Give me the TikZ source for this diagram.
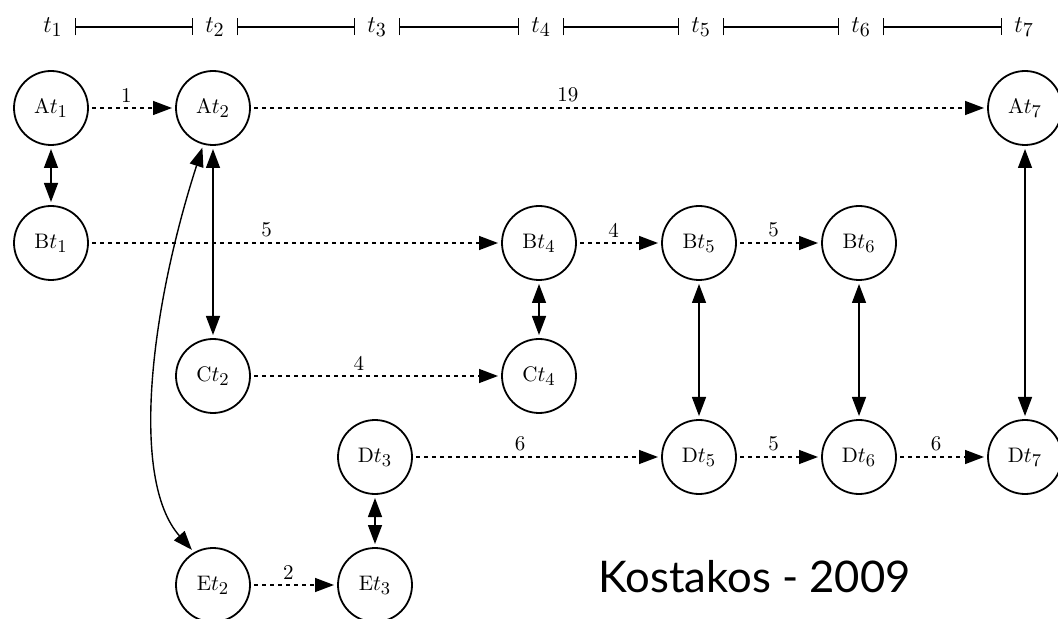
\documentclass[tikz,border=0pt]{standalone}
\usepackage{fontspec}
\newfontfamily\capfont{Lato}
\usetikzlibrary{arrows.meta}
\DeclareMathSizes{10.5}{10.5}{9}{7}
\DeclareMathSizes{12}{12}{10}{8}
\begin{document}
\begin{tikzpicture}[x=0.5pt,y=-0.5pt,
  state/.style={circle,draw,line width=0.9pt,minimum size=37pt,inner sep=0pt,outer sep=2pt,font=\fontsize{10.5}{12}\selectfont},
  tlabel/.style={inner sep=6pt,outer sep=0pt,font=\fontsize{12}{14}\selectfont},
  tbar/.style={line width=0.8pt,{Bar[width=8.5pt]}-{Bar[width=8.5pt]}},
  flow/.style={line width=0.7pt,dash pattern=on 2pt off 2pt,-{Triangle[length=9.5pt,width=7pt]}},
  link/.style={line width=0.7pt,{Triangle[length=9.5pt,width=7pt]}-{Triangle[length=9.5pt,width=7pt]}},
  wlabel/.style={above,pos=0.43,inner sep=2.5pt,font=\fontsize{10.5}{12}\selectfont}]
\useasboundingbox (0,0) rectangle (1058,619);

% timeline
\node[tlabel] (T1) at (53,27) {$t_1$};
\node[tlabel] (T2) at (215,27) {$t_2$};
\node[tlabel] (T3) at (377,27) {$t_3$};
\node[tlabel] (T4) at (541,27) {$t_4$};
\node[tlabel] (T5) at (701,27) {$t_5$};
\node[tlabel] (T6) at (861,27) {$t_6$};
\node[tlabel] (T7) at (1024,27) {$t_7$};
\draw[tbar] (T1) -- (T2);
\draw[tbar] (T2) -- (T3);
\draw[tbar] (T3) -- (T4);
\draw[tbar] (T4) -- (T5);
\draw[tbar] (T5) -- (T6);
\draw[tbar] (T6) -- (T7);

% states
\node[state] (A1) at (51,108) {A$t_1$};
\node[state] (A2) at (213,108) {A$t_2$};
\node[state] (A7) at (1025,108) {A$t_7$};
\node[state] (B1) at (51,243) {B$t_1$};
\node[state] (B4) at (539,243) {B$t_4$};
\node[state] (B5) at (699,243) {B$t_5$};
\node[state] (B6) at (859,243) {B$t_6$};
\node[state] (C2) at (213,376) {C$t_2$};
\node[state] (C4) at (539,376) {C$t_4$};
\node[state] (D3) at (375,457) {D$t_3$};
\node[state] (D5) at (699,457) {D$t_5$};
\node[state] (D6) at (859,457) {D$t_6$};
\node[state] (D7) at (1025,457) {D$t_7$};
\node[state] (E2) at (213,585) {E$t_2$};
\node[state] (E3) at (375,585) {E$t_3$};

% flows
\draw[flow] (A1) -- node[wlabel]{1} (A2);
\draw[flow] (A2) -- node[wlabel]{19} (A7);
\draw[flow] (B1) -- node[wlabel]{5} (B4);
\draw[flow] (B4) -- node[wlabel]{4} (B5);
\draw[flow] (B5) -- node[wlabel]{5} (B6);
\draw[flow] (C2) -- node[wlabel]{4} (C4);
\draw[flow] (D3) -- node[wlabel]{6} (D5);
\draw[flow] (D5) -- node[wlabel]{5} (D6);
\draw[flow] (D6) -- node[wlabel]{6} (D7);
\draw[flow] (E2) -- node[wlabel]{2} (E3);

% links
\draw[link] (A1) -- (B1);
\draw[link] (A2) -- (C2);
\draw[link] (B4) -- (C4);
\draw[link] (B5) -- (D5);
\draw[link] (B6) -- (D6);
\draw[link] (A7) -- (D7);
\draw[link] (D3) -- (E3);
\draw[link] (A2.255) .. controls (150,310) and (130,480) .. (E2.121);

\node[anchor=base west,inner sep=0pt,font=\capfont\fontsize{21.8}{26}\selectfont] (cap) at (598,592) {Kostakos - 2009};
\end{tikzpicture}
\end{document}
